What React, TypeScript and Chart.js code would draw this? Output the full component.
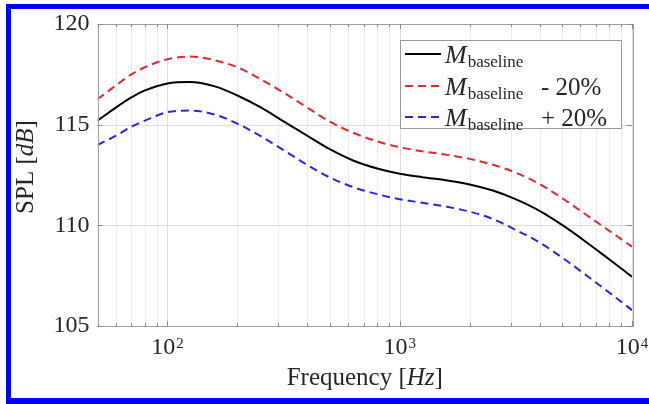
import { useEffect, useRef } from 'react';
import { Chart, registerables } from 'chart.js';
Chart.register(...registerables);

const freqs = [50, 60, 70, 80, 100, 125, 160, 200, 250, 315, 400, 500, 630, 800, 1000, 1250, 1600, 2000, 2500, 3150, 4000, 5000, 6300, 8000, 10000];
const baseline = [115.2, 115.85, 116.35, 116.7, 117.05, 117.12, 116.9, 116.45, 115.88, 115.18, 114.45, 113.78, 113.22, 112.82, 112.56, 112.39, 112.23, 112.03, 111.74, 111.3, 110.72, 110.02, 109.2, 108.3, 107.45];
const minus20 = [116.26, 116.95, 117.5, 117.85, 118.25, 118.38, 118.2, 117.85, 117.28, 116.6, 115.85, 115.15, 114.6, 114.17, 113.88, 113.68, 113.5, 113.3, 113.02, 112.62, 112.05, 111.35, 110.55, 109.72, 108.94];
const plus20 = [113.99, 114.45, 114.9, 115.2, 115.62, 115.7, 115.5, 115.05, 114.45, 113.75, 113.0, 112.38, 111.9, 111.55, 111.3, 111.12, 110.92, 110.68, 110.33, 109.78, 109.15, 108.4, 107.55, 106.65, 105.79];

const xMin = 50;
const xMax = 10000;
const xMajorTicks = [100, 1000, 10000];
const xMajorExps = ['2', '3', '4'];
const yTicks = [105, 110, 115, 120];
const legendSuffix = ['', '- 20%', '+ 20%'];

const SERIF = '"Liberation Serif", "DejaVu Serif", serif';
const RED = '#e8262f';
const BLUE = '#2626e6';

function minorTicks(): number[] {
  const out: number[] = [];
  for (const d of [10, 100, 1000]) {
    for (let m = 1; m <= 9; m++) {
      const v = m * d;
      if (v >= xMin && v <= xMax) out.push(v);
    }
  }
  out.push(10000);
  return out;
}

const figPlugin = {
  id: 'figPlugin',
  beforeDatasetsDraw(chart: any) {
    const { ctx, chartArea: a, scales } = chart;
    const xs = scales.x, ys = scales.y;
    ctx.save();
    ctx.lineWidth = 1;
    for (const v of minorTicks()) {
      const px = Math.round(xs.getPixelForValue(v)) + 0.5;
      const major = xMajorTicks.includes(v);
      ctx.strokeStyle = major ? '#dedede' : '#ececec';
      ctx.beginPath(); ctx.moveTo(px, a.top); ctx.lineTo(px, a.bottom); ctx.stroke();
    }
    for (const v of yTicks) {
      const py = Math.round(ys.getPixelForValue(v)) + 0.5;
      ctx.strokeStyle = '#dedede';
      ctx.beginPath(); ctx.moveTo(a.left, py); ctx.lineTo(a.right, py); ctx.stroke();
    }
    ctx.restore();
  },
  afterDraw(chart: any) {
    const { ctx, chartArea: a, scales } = chart;
    const xs = scales.x, ys = scales.y;
    ctx.save();
    // box
    ctx.strokeStyle = '#a0a0a0';
    ctx.lineWidth = 1;
    ctx.strokeRect(Math.round(a.left) + 0.5, Math.round(a.top) + 0.5, Math.round(a.right - a.left), Math.round(a.bottom - a.top));
    // ticks
    ctx.strokeStyle = '#8a8a8a';
    for (const v of minorTicks()) {
      const px = Math.round(xs.getPixelForValue(v)) + 0.5;
      const len = xMajorTicks.includes(v) ? 5 : 3;
      ctx.beginPath();
      ctx.moveTo(px, a.bottom); ctx.lineTo(px, a.bottom - len);
      ctx.moveTo(px, a.top); ctx.lineTo(px, a.top + len);
      ctx.stroke();
    }
    for (const v of yTicks) {
      const py = Math.round(ys.getPixelForValue(v)) + 0.5;
      ctx.beginPath();
      ctx.moveTo(a.left, py); ctx.lineTo(a.left + 5, py);
      ctx.moveTo(a.right, py); ctx.lineTo(a.right - 5, py);
      ctx.stroke();
    }
    // x tick labels 10^n
    ctx.fillStyle = '#262626';
    ctx.textBaseline = 'alphabetic';
    ctx.textAlign = 'left';
    xMajorTicks.forEach((v, i) => {
      const px = xs.getPixelForValue(v);
      ctx.font = `24px ${SERIF}`;
      const w1 = ctx.measureText('10').width;
      ctx.font = `15px ${SERIF}`;
      const w2 = ctx.measureText(xMajorExps[i]).width;
      const x0 = px - (w1 + w2 + 1) / 2;
      ctx.font = `24px ${SERIF}`;
      ctx.fillText('10', x0, 354);
      ctx.font = `15px ${SERIF}`;
      ctx.fillText(xMajorExps[i], x0 + w1 + 1, 348);
    });
    // x title
    const cx = (a.left + a.right) / 2;
    const parts: [string, string][] = [['Frequency [', ''], ['Hz', 'italic '], [']', '']];
    let total = 0;
    for (const [t, s] of parts) { ctx.font = `${s}25px ${SERIF}`; total += ctx.measureText(t).width; }
    let x = cx - total / 2;
    for (const [t, s] of parts) { ctx.font = `${s}25px ${SERIF}`; ctx.fillText(t, x, 385); x += ctx.measureText(t).width; }
    // y title
    ctx.save();
    ctx.translate(33, 167);
    ctx.rotate(-Math.PI / 2);
    const yparts: [string, string][] = [['SPL [', ''], ['dB', 'italic '], [']', '']];
    total = 0;
    for (const [t, s] of yparts) { ctx.font = `${s}25px ${SERIF}`; total += ctx.measureText(t).width; }
    x = -total / 2;
    for (const [t, s] of yparts) { ctx.font = `${s}25px ${SERIF}`; ctx.fillText(t, x, 0); x += ctx.measureText(t).width; }
    ctx.restore();
    // legend
    const L = 400, T = 40, R = 621, B = 128;
    ctx.fillStyle = '#ffffff';
    ctx.fillRect(L, T, R - L, B - T);
    ctx.strokeStyle = '#9a9a9a';
    ctx.lineWidth = 1;
    ctx.strokeRect(L + 0.5, T + 0.5, R - L, B - T);
    const rowsY = [54, 86, 117];
    chart.data.datasets.forEach((ds: any, i: number) => {
      const ly = rowsY[i];
      ctx.strokeStyle = ds.borderColor;
      ctx.lineWidth = ds.borderWidth;
      ctx.setLineDash(ds.borderDash || []);
      ctx.beginPath(); ctx.moveTo(405, ly); ctx.lineTo(441, ly); ctx.stroke();
      ctx.setLineDash([]);
      ctx.fillStyle = '#262626';
      ctx.font = `italic 26px ${SERIF}`;
      ctx.fillText('M', 445, ly + 9);
      const mw = ctx.measureText('M').width;
      ctx.font = `17px ${SERIF}`;
      ctx.fillText('baseline', 445 + mw + 1, ly + 13);
      if (legendSuffix[i]) {
        ctx.font = `25px ${SERIF}`;
        ctx.fillText(legendSuffix[i], 541, ly + 9);
      }
    });
    ctx.restore();
  },
};

export default function App() {
  const ref = useRef<HTMLCanvasElement | null>(null);
  useEffect(() => {
    if (!ref.current) return;
    const mk = (vals: number[]) => freqs.map((f, i) => ({ x: f, y: vals[i] }));
    const chart = new Chart(ref.current, {
      type: 'line',
      data: {
        datasets: [
          { label: 'M baseline', data: mk(baseline), borderColor: '#000000', borderWidth: 2, pointRadius: 0, cubicInterpolationMode: 'monotone' },
          { label: 'M baseline - 20%', data: mk(minus20), borderColor: RED, borderWidth: 2, borderDash: [8, 5], pointRadius: 0, cubicInterpolationMode: 'monotone' },
          { label: 'M baseline + 20%', data: mk(plus20), borderColor: BLUE, borderWidth: 2, borderDash: [8, 5], pointRadius: 0, cubicInterpolationMode: 'monotone' },
        ],
      },
      options: {
        animation: false,
        responsive: false,
        maintainAspectRatio: false,
        layout: { padding: { left: 0, top: 24, right: 17, bottom: 0 } },
        plugins: { legend: { display: false }, tooltip: { enabled: false } },
        scales: {
          x: {
            type: 'logarithmic', min: xMin, max: xMax,
            grid: { display: false }, border: { display: false },
            ticks: { display: false },
            afterFit: (s: any) => { s.height = 78; },
          },
          y: {
            min: 105, max: 120,
            afterBuildTicks: (s: any) => { s.ticks = yTicks.map((v) => ({ value: v })); },
            grid: { display: false, drawTicks: false }, border: { display: false },
            ticks: { font: { family: SERIF, size: 24 }, color: '#262626', padding: 8 },
            afterFit: (s: any) => { s.width = 97.5; },
          },
        },
      },
      plugins: [figPlugin],
    } as any);
    return () => chart.destroy();
  }, []);
  return (
    <div style={{ position: 'fixed', left: 0, top: 0, width: 649, height: 404, background: '#fff', overflow: 'hidden' }}>
      <canvas ref={ref} width={649} height={404} style={{ position: 'absolute', left: 0, top: 0, width: 649, height: 404 }} />
      <div style={{ position: 'absolute', left: 6, top: 4, width: 643, height: 5, background: '#0000ff' }} />
      <div style={{ position: 'absolute', left: 6, top: 4, width: 5, height: 400, background: '#0000ff' }} />
      <div style={{ position: 'absolute', left: 6, top: 398, width: 643, height: 6, background: '#0000ff' }} />
    </div>
  );
}
